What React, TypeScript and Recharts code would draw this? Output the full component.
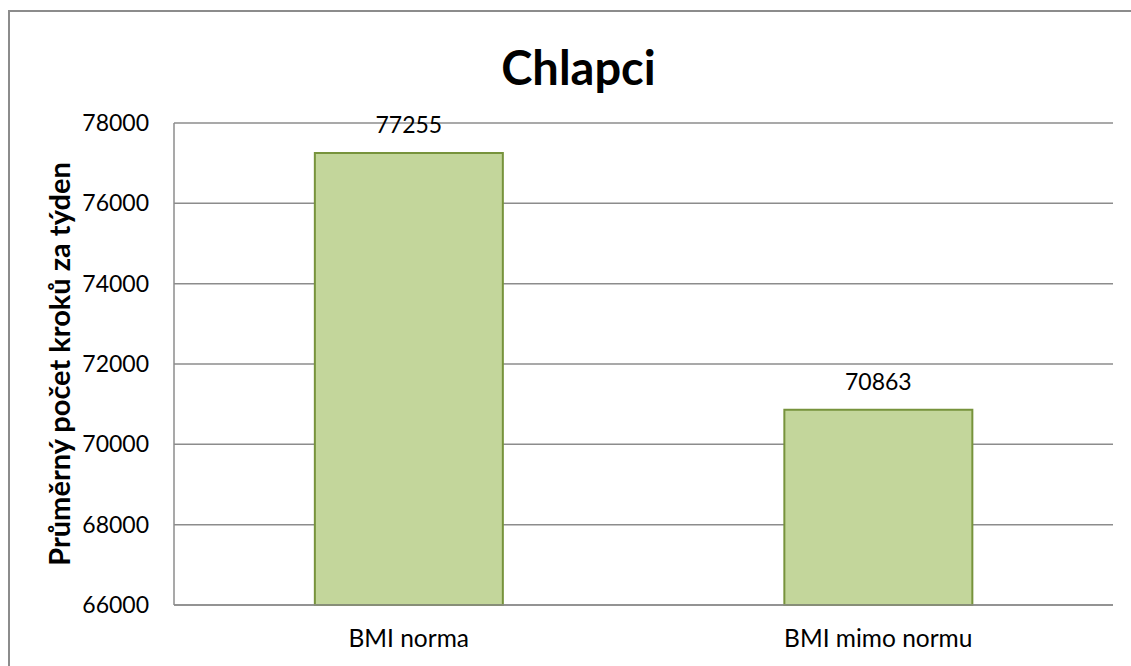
import React from "react";
import { BarChart, Bar, XAxis, YAxis, CartesianGrid, LabelList } from "recharts";

const categories = ["BMI norma", "BMI mimo normu"];
const steps = [77255, 70863];
const yTicks = [66000, 68000, 70000, 72000, 74000, 76000, 78000];

const data = categories.map((name, i) => ({ name, steps: steps[i] }));

const FONT = "Lato, 'Open Sans', sans-serif";

export default function App() {
  return (
    <div
      style={{
        position: "absolute",
        left: 0,
        top: 0,
        width: 1131,
        height: 666,
        overflow: "hidden",
        background: "#fff",
        fontFamily: FONT,
      }}
    >
      <div
        style={{
          position: "absolute",
          left: 8,
          top: 10,
          width: 1150,
          height: 700,
          border: "2px solid #8c8c8c",
          boxSizing: "border-box",
        }}
      />
      <div
        style={{
          position: "absolute",
          left: 0,
          width: 1157,
          top: 39,
          textAlign: "center",
          fontWeight: 700,
          fontSize: 47,
          lineHeight: "normal",
          color: "#000",
        }}
      >
        Chlapci
      </div>
      <div style={{ position: "absolute", left: 0, top: 0 }}>
        <BarChart
          width={1131}
          height={666}
          data={data}
          margin={{ top: 123, right: 18, bottom: 31, left: 94 }}
          barCategoryGap="30%"
        >
          <CartesianGrid horizontal vertical={false} stroke="#8c8c8c" strokeWidth={1.5} />
          <XAxis
            dataKey="name"
            height={30}
            tickLine={false}
            tickSize={0}
            tickMargin={25}
            axisLine={{ stroke: "#8c8c8c", strokeWidth: 1.5 }}
            tick={{ fill: "#000", fontSize: 24.5, fontFamily: FONT }}
          />
          <YAxis
            width={80}
            domain={[66000, 78000]}
            ticks={yTicks}
            interval={0}
            tickLine={false}
            tickSize={0}
            tickMargin={25}
            axisLine={{ stroke: "#8c8c8c", strokeWidth: 1.5 }}
            tick={{ fill: "#000", fontSize: 23, fontFamily: FONT }}
            label={{
              value: "Průměrný počet kroků za týden",
              angle: -90,
              position: "insideLeft",
              offset: -34,
              style: { textAnchor: "middle", fontWeight: 700, fontSize: 29, fill: "#000", fontFamily: FONT },
            }}
          />
          <Bar
            dataKey="steps"
            fill="#c3d69b"
            stroke="#77933c"
            strokeWidth={2}
            isAnimationActive={false}
          >
            <LabelList
              dataKey="steps"
              position="top"
              offset={20}
              style={{ fill: "#000", fontSize: 23, fontFamily: FONT }}
            />
          </Bar>
        </BarChart>
      </div>
    </div>
  );
}
